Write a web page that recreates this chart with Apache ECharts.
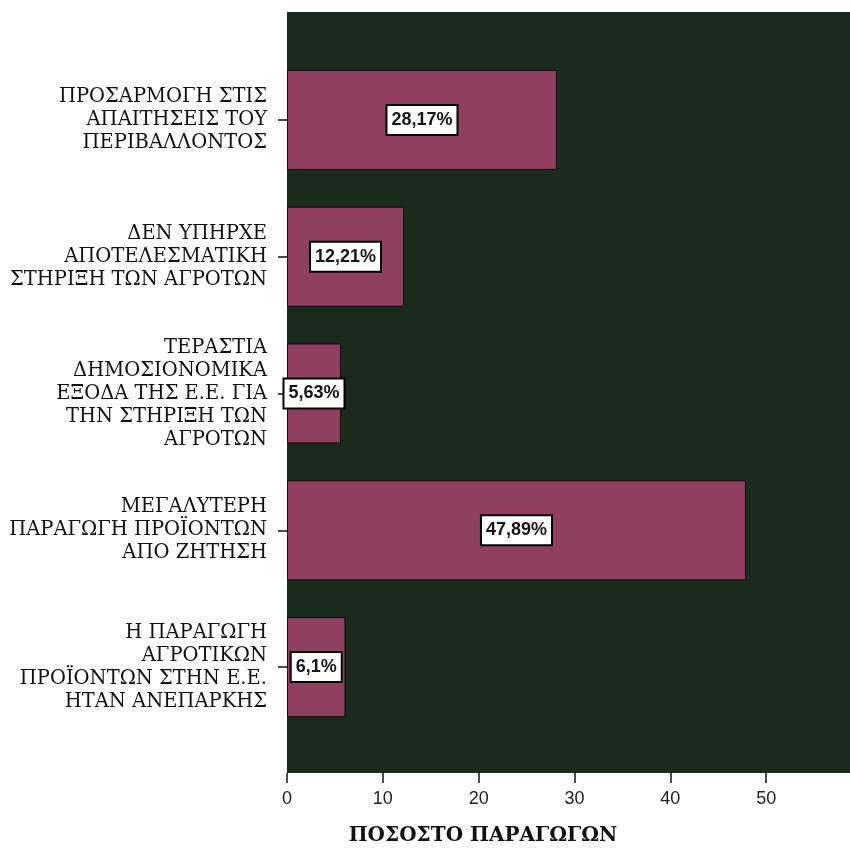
<!DOCTYPE html>
<html><head><meta charset="utf-8">
<script src="https://cdn.jsdelivr.net/npm/echarts@6/dist/echarts.min.js"></script>
<style>html,body{margin:0;padding:0;background:#fff}#c{width:850px;height:849px}</style>
</head><body><div id="c"></div>
<script>
const categories = [
  "ΠΡΟΣΑΡΜΟΓΗ ΣΤΙΣ\nΑΠΑΙΤΗΣΕΙΣ ΤΟΥ\nΠΕΡΙΒΑΛΛΟΝΤΟΣ",
  "ΔΕΝ ΥΠΗΡΧΕ\nΑΠΟΤΕΛΕΣΜΑΤΙΚΗ\nΣΤΗΡΙΞΗ ΤΩΝ ΑΓΡΟΤΩΝ",
  "ΤΕΡΑΣΤΙΑ\nΔΗΜΟΣΙΟΝΟΜΙΚΑ\nΕΞΟΔΑ ΤΗΣ Ε.Ε. ΓΙΑ\nΤΗΝ ΣΤΗΡΙΞΗ ΤΩΝ\nΑΓΡΟΤΩΝ",
  "ΜΕΓΑΛΥΤΕΡΗ\nΠΑΡΑΓΩΓΗ ΠΡΟΪΟΝΤΩΝ\nΑΠΟ ΖΗΤΗΣΗ",
  "Η ΠΑΡΑΓΩΓΗ\nΑΓΡΟΤΙΚΩΝ\nΠΡΟΪΟΝΤΩΝ ΣΤΗΝ Ε.Ε.\nΗΤΑΝ ΑΝΕΠΑΡΚΗΣ"
];
const percentValues = [28.17, 12.21, 5.63, 47.89, 6.1];
const xTicks = [0, 10, 20, 30, 40, 50, 60];
const axisTitle = "ΠΟΣΟΣΤΟ ΠΑΡΑΓΩΓΩΝ";

const chart = echarts.init(document.getElementById('c'), null, {renderer: 'canvas'});
const xMin = xTicks[0], xMax = xTicks[xTicks.length - 1], xStep = xTicks[1] - xTicks[0];
chart.setOption({
  animation: false,
  backgroundColor: '#ffffff',
  title: {
    text: axisTitle,
    left: 478, top: 821, textAlign: 'center',
    textStyle: {fontFamily: 'DejaVu Serif', fontWeight: 'bold', fontSize: 20, color: '#111'}
  },
  grid: [
    {left: 287, width: 575, top: 12, height: 761, show: true, backgroundColor: '#1a2a1d', borderWidth: 0,
     outerBoundsMode: 'none', containLabel: false},
    {left: 287, width: 575, top: 51.5, height: 684, outerBoundsMode: 'none', containLabel: false}
  ],
  xAxis: [
    {gridIndex: 0, type: 'value', min: xMin, max: xMax, interval: xStep,
     axisLine: {show: false}, splitLine: {show: false},
     axisTick: {show: true, length: 10, lineStyle: {color: '#111', width: 1.5}},
     axisLabel: {margin: 17, fontFamily: 'Liberation Sans', fontSize: 18, color: '#222',
       formatter: v => (v === xMax ? '' : String(v))}},
    {gridIndex: 1, type: 'value', min: xMin, max: xMax, show: false}
  ],
  yAxis: [
    {gridIndex: 0, type: 'value', show: false},
    {gridIndex: 1, type: 'category', data: categories, inverse: true,
     axisLine: {show: false},
     axisTick: {show: true, alignWithLabel: true, length: 9, lineStyle: {color: '#111', width: 1.5}},
     axisLabel: {margin: 20, fontFamily: 'DejaVu Serif', fontSize: 19.5, lineHeight: 23, color: '#111', align: 'right'}}
  ],
  series: [{
    type: 'bar', xAxisIndex: 1, yAxisIndex: 1,
    data: percentValues, barWidth: 100,
    itemStyle: {color: '#8f4061', borderColor: '#0d0d0d', borderWidth: 1},
    label: {show: true, position: 'inside',
      formatter: p => String(p.value).replace('.', ',') + '%',
      backgroundColor: '#ffffff', borderColor: '#000', borderWidth: 2, padding: [4, 4, 3, 4],
      lineHeight: 21,
      color: '#151515', fontFamily: 'Liberation Sans', fontWeight: 'bold', fontSize: 18}
  }]
});
</script></body></html>
